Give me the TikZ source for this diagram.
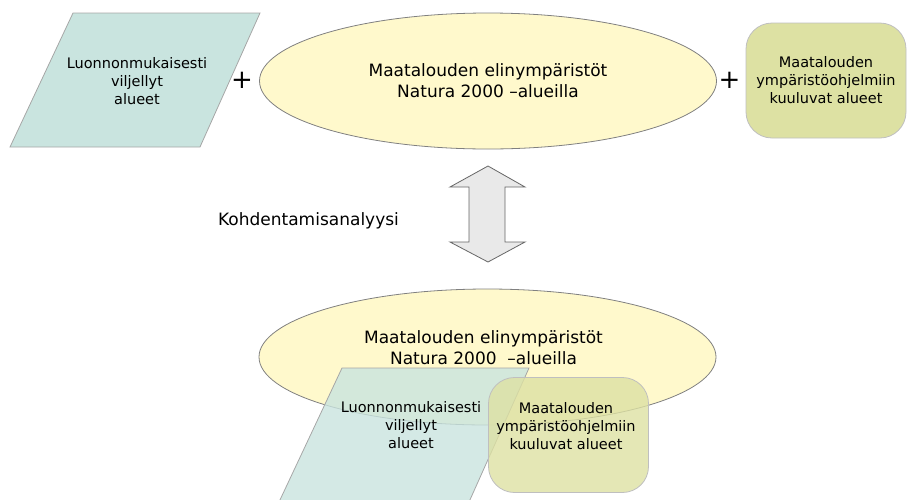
\documentclass[tikz,border=0pt]{standalone}
\usepackage{fontspec}
\setmainfont{DejaVu Sans}
\usetikzlibrary{shapes.geometric,positioning}
\definecolor{fieldfill}{HTML}{C9E4DF}
\definecolor{habitatfill}{HTML}{FFF9CC}
\definecolor{schemefill}{HTML}{DDE1A3}
\definecolor{arrowfill}{HTML}{E9E9E9}

\begin{document}
\begin{tikzpicture}[x=1pt,y=-1pt]
			\tikzset{
				field/.style={draw=black!35, line width=0.8pt, fill=fieldfill},
				habitat/.style={ellipse, draw=black!50, line width=0.8pt, fill=habitatfill,
					minimum width=457pt, minimum height=136pt, inner sep=0pt},
				scheme/.style={rectangle, rounded corners=26pt, draw=black!25, line width=0.8pt,
					fill=schemefill, minimum width=160pt, minimum height=115pt},
				small/.style={align=center, font=\fontsize{14.5}{18}\selectfont},
				big/.style={align=center, font=\fontsize{17}{21}\selectfont},
				plus/.style={font=\fontsize{26}{26}\selectfont}
			}
			\useasboundingbox (0,0) rectangle (909,499);

			\draw[field] (73,13) -- (260,13) -- (200,147) -- (10,147) -- cycle;
			\node[small] (org) at (137,81) {Luonnonmukaisesti\\viljellyt\\alueet};
			\node[habitat, big] (natura) at (488,81) {Maatalouden elinympäristöt\\Natura 2000 –alueilla};
			\node[scheme, small] (agri) at (826,80.5) {Maatalouden\\ympäristöohjelmiin\\kuuluvat alueet};
			\node[plus] (plusA) at (242,80) {+};
			\node[plus] (plusB) at (729.5,80) {+};

			\coordinate (up) at (488,166);
			\coordinate (down) at (488,262);
			\draw[draw=black!60, line width=0.8pt, fill=arrowfill] (up) -- ++(37,21) -- ++(-20,0) -- ++(0,55)
				-- ++(20,0) -- (down) -- ++(-38,-20) -- ++(19,0) -- ++(0,-55) -- ++(-19,0) -- cycle;
			\node[big] (analysis) at (308.5,221) {Kohdentamisanalyysi};

			\node[habitat] (natura2) at (487.5,357) {};
			\node[big] (naturaText) at (483.5,348) {Maatalouden elinympäristöt\\Natura 2000\ \ –alueilla};
			\draw[field, fill opacity=0.8, shift={(269,355)}] (73,13) -- (260,13) -- (200,147) -- (10,147) -- cycle;
			\node[scheme, fill opacity=0.8] (agri2) at (568.5,435) {};
			\node[small] (orgText) at (411,425) {Luonnonmukaisesti\\viljellyt\\alueet};
			\node[small] (agriText) at (566,426) {Maatalouden\\ympäristöohjelmiin\\kuuluvat alueet};
		\end{tikzpicture}
\end{document}
